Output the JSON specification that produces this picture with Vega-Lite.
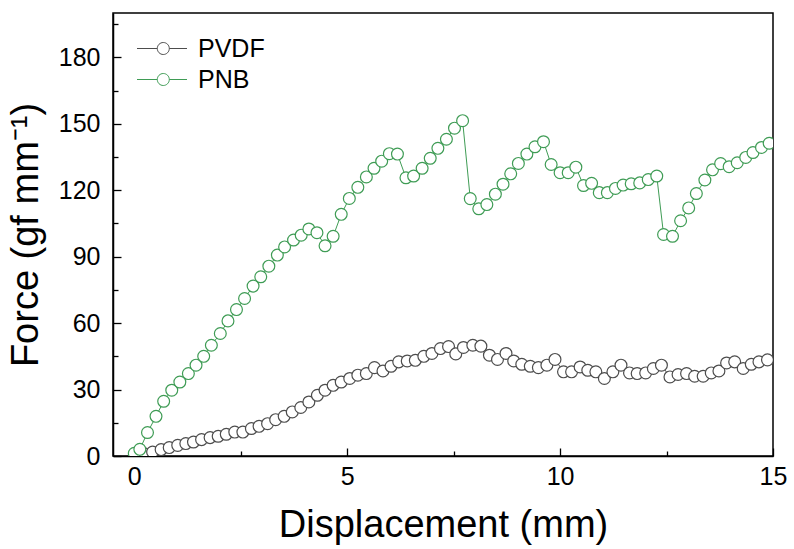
{
  "$schema": "https://vega.github.io/schema/vega-lite/v6.json",
  "width": 660,
  "height": 443,
  "autosize": "none",
  "padding": {"left": 113, "top": 13, "right": 21, "bottom": 93},
  "background": "white",
  "config": {
    "font": "Liberation Sans",
    "view": {"stroke": "black", "strokeWidth": 1.5},
    "axis": {"grid": false, "domainColor": "black", "domainWidth": 1.5, "tickColor": "black", "tickWidth": 1.3, "labelColor": "black", "titleColor": "black", "labelFont": "Liberation Sans", "titleFont": "Liberation Sans", "labelFontSize": 25, "titleFontSize": 38, "titleFontWeight": "normal", "labelFlush": false, "labelOverlap": false}
  },
  "datasets": {
    "pts": [
      {"x": 0.04, "y": 0.3, "s": "PVDF"}, {"x": 0.24, "y": 1.0, "s": "PVDF"}, {"x": 0.43, "y": 1.8, "s": "PVDF"}, {"x": 0.63, "y": 2.9, "s": "PVDF"}, {"x": 0.82, "y": 3.8, "s": "PVDF"}, {"x": 1.02, "y": 4.8, "s": "PVDF"}, {"x": 1.21, "y": 5.6, "s": "PVDF"}, {"x": 1.39, "y": 6.3, "s": "PVDF"}, {"x": 1.58, "y": 7.4, "s": "PVDF"}, {"x": 1.78, "y": 8.3, "s": "PVDF"}, {"x": 1.97, "y": 8.9, "s": "PVDF"}, {"x": 2.16, "y": 9.8, "s": "PVDF"}, {"x": 2.36, "y": 10.8, "s": "PVDF"}, {"x": 2.55, "y": 10.8, "s": "PVDF"}, {"x": 2.75, "y": 12.4, "s": "PVDF"}, {"x": 2.93, "y": 13.4, "s": "PVDF"}, {"x": 3.13, "y": 14.6, "s": "PVDF"}, {"x": 3.32, "y": 16.4, "s": "PVDF"}, {"x": 3.52, "y": 17.9, "s": "PVDF"}, {"x": 3.71, "y": 19.9, "s": "PVDF"}, {"x": 3.91, "y": 21.9, "s": "PVDF"}, {"x": 4.1, "y": 24.4, "s": "PVDF"}, {"x": 4.3, "y": 27.4, "s": "PVDF"}, {"x": 4.48, "y": 29.7, "s": "PVDF"}, {"x": 4.67, "y": 31.9, "s": "PVDF"}, {"x": 4.86, "y": 33.4, "s": "PVDF"}, {"x": 5.06, "y": 35.0, "s": "PVDF"}, {"x": 5.25, "y": 36.5, "s": "PVDF"}, {"x": 5.45, "y": 37.2, "s": "PVDF"}, {"x": 5.64, "y": 39.9, "s": "PVDF"}, {"x": 5.84, "y": 38.4, "s": "PVDF"}, {"x": 6.03, "y": 40.5, "s": "PVDF"}, {"x": 6.21, "y": 42.5, "s": "PVDF"}, {"x": 6.41, "y": 42.9, "s": "PVDF"}, {"x": 6.6, "y": 43.2, "s": "PVDF"}, {"x": 6.8, "y": 45.0, "s": "PVDF"}, {"x": 6.99, "y": 46.3, "s": "PVDF"}, {"x": 7.19, "y": 48.5, "s": "PVDF"}, {"x": 7.38, "y": 49.4, "s": "PVDF"}, {"x": 7.55, "y": 46.1, "s": "PVDF"}, {"x": 7.73, "y": 49.0, "s": "PVDF"}, {"x": 7.95, "y": 50.0, "s": "PVDF"}, {"x": 8.14, "y": 49.6, "s": "PVDF"}, {"x": 8.34, "y": 45.5, "s": "PVDF"}, {"x": 8.53, "y": 43.6, "s": "PVDF"}, {"x": 8.73, "y": 46.3, "s": "PVDF"}, {"x": 8.91, "y": 42.9, "s": "PVDF"}, {"x": 9.1, "y": 41.4, "s": "PVDF"}, {"x": 9.3, "y": 40.5, "s": "PVDF"}, {"x": 9.49, "y": 39.9, "s": "PVDF"}, {"x": 9.69, "y": 41.0, "s": "PVDF"}, {"x": 9.88, "y": 43.6, "s": "PVDF"}, {"x": 10.08, "y": 38.0, "s": "PVDF"}, {"x": 10.27, "y": 38.0, "s": "PVDF"}, {"x": 10.47, "y": 40.2, "s": "PVDF"}, {"x": 10.65, "y": 38.7, "s": "PVDF"}, {"x": 10.84, "y": 38.0, "s": "PVDF"}, {"x": 11.04, "y": 35.0, "s": "PVDF"}, {"x": 11.24, "y": 38.0, "s": "PVDF"}, {"x": 11.43, "y": 41.0, "s": "PVDF"}, {"x": 11.63, "y": 37.5, "s": "PVDF"}, {"x": 11.81, "y": 37.2, "s": "PVDF"}, {"x": 12.01, "y": 37.5, "s": "PVDF"}, {"x": 12.19, "y": 39.5, "s": "PVDF"}, {"x": 12.38, "y": 41.0, "s": "PVDF"}, {"x": 12.58, "y": 35.7, "s": "PVDF"}, {"x": 12.77, "y": 36.8, "s": "PVDF"}, {"x": 12.97, "y": 37.2, "s": "PVDF"}, {"x": 13.16, "y": 36.0, "s": "PVDF"}, {"x": 13.36, "y": 36.0, "s": "PVDF"}, {"x": 13.55, "y": 37.5, "s": "PVDF"}, {"x": 13.73, "y": 38.4, "s": "PVDF"}, {"x": 13.91, "y": 42.0, "s": "PVDF"}, {"x": 14.1, "y": 42.5, "s": "PVDF"}, {"x": 14.3, "y": 39.5, "s": "PVDF"}, {"x": 14.49, "y": 41.4, "s": "PVDF"}, {"x": 14.67, "y": 42.5, "s": "PVDF"}, {"x": 14.87, "y": 43.4, "s": "PVDF"},
      {"x": 0.0, "y": 1.2, "s": "PNB"}, {"x": 0.13, "y": 3.0, "s": "PNB"}, {"x": 0.31, "y": 10.6, "s": "PNB"}, {"x": 0.51, "y": 17.9, "s": "PNB"}, {"x": 0.69, "y": 24.7, "s": "PNB"}, {"x": 0.88, "y": 29.7, "s": "PNB"}, {"x": 1.07, "y": 33.4, "s": "PNB"}, {"x": 1.27, "y": 37.2, "s": "PNB"}, {"x": 1.45, "y": 41.0, "s": "PNB"}, {"x": 1.63, "y": 45.0, "s": "PNB"}, {"x": 1.81, "y": 50.0, "s": "PNB"}, {"x": 2.02, "y": 55.3, "s": "PNB"}, {"x": 2.2, "y": 61.0, "s": "PNB"}, {"x": 2.4, "y": 66.1, "s": "PNB"}, {"x": 2.59, "y": 71.1, "s": "PNB"}, {"x": 2.79, "y": 76.7, "s": "PNB"}, {"x": 2.97, "y": 80.9, "s": "PNB"}, {"x": 3.16, "y": 85.7, "s": "PNB"}, {"x": 3.36, "y": 90.7, "s": "PNB"}, {"x": 3.53, "y": 94.4, "s": "PNB"}, {"x": 3.74, "y": 97.5, "s": "PNB"}, {"x": 3.92, "y": 99.7, "s": "PNB"}, {"x": 4.1, "y": 102.5, "s": "PNB"}, {"x": 4.29, "y": 100.8, "s": "PNB"}, {"x": 4.48, "y": 94.9, "s": "PNB"}, {"x": 4.67, "y": 99.2, "s": "PNB"}, {"x": 4.86, "y": 109.1, "s": "PNB"}, {"x": 5.05, "y": 116.3, "s": "PNB"}, {"x": 5.25, "y": 121.3, "s": "PNB"}, {"x": 5.45, "y": 126.0, "s": "PNB"}, {"x": 5.63, "y": 129.9, "s": "PNB"}, {"x": 5.81, "y": 133.1, "s": "PNB"}, {"x": 5.99, "y": 136.5, "s": "PNB"}, {"x": 6.18, "y": 136.3, "s": "PNB"}, {"x": 6.38, "y": 125.6, "s": "PNB"}, {"x": 6.56, "y": 126.4, "s": "PNB"}, {"x": 6.76, "y": 129.9, "s": "PNB"}, {"x": 6.95, "y": 134.4, "s": "PNB"}, {"x": 7.13, "y": 138.9, "s": "PNB"}, {"x": 7.33, "y": 143.0, "s": "PNB"}, {"x": 7.52, "y": 148.0, "s": "PNB"}, {"x": 7.71, "y": 151.4, "s": "PNB"}, {"x": 7.89, "y": 116.2, "s": "PNB"}, {"x": 8.09, "y": 111.6, "s": "PNB"}, {"x": 8.28, "y": 113.5, "s": "PNB"}, {"x": 8.48, "y": 118.2, "s": "PNB"}, {"x": 8.66, "y": 122.7, "s": "PNB"}, {"x": 8.84, "y": 127.4, "s": "PNB"}, {"x": 9.02, "y": 132.1, "s": "PNB"}, {"x": 9.22, "y": 136.3, "s": "PNB"}, {"x": 9.41, "y": 139.6, "s": "PNB"}, {"x": 9.61, "y": 141.9, "s": "PNB"}, {"x": 9.79, "y": 131.6, "s": "PNB"}, {"x": 10.0, "y": 127.9, "s": "PNB"}, {"x": 10.19, "y": 127.9, "s": "PNB"}, {"x": 10.37, "y": 130.4, "s": "PNB"}, {"x": 10.55, "y": 122.1, "s": "PNB"}, {"x": 10.74, "y": 123.1, "s": "PNB"}, {"x": 10.92, "y": 118.9, "s": "PNB"}, {"x": 11.11, "y": 118.9, "s": "PNB"}, {"x": 11.3, "y": 120.8, "s": "PNB"}, {"x": 11.48, "y": 122.3, "s": "PNB"}, {"x": 11.67, "y": 122.9, "s": "PNB"}, {"x": 11.87, "y": 123.3, "s": "PNB"}, {"x": 12.07, "y": 124.8, "s": "PNB"}, {"x": 12.27, "y": 126.4, "s": "PNB"}, {"x": 12.43, "y": 100.0, "s": "PNB"}, {"x": 12.64, "y": 99.2, "s": "PNB"}, {"x": 12.83, "y": 106.2, "s": "PNB"}, {"x": 13.02, "y": 112.0, "s": "PNB"}, {"x": 13.2, "y": 118.5, "s": "PNB"}, {"x": 13.4, "y": 124.6, "s": "PNB"}, {"x": 13.58, "y": 129.2, "s": "PNB"}, {"x": 13.77, "y": 132.0, "s": "PNB"}, {"x": 13.97, "y": 130.6, "s": "PNB"}, {"x": 14.16, "y": 132.4, "s": "PNB"}, {"x": 14.36, "y": 134.8, "s": "PNB"}, {"x": 14.53, "y": 137.0, "s": "PNB"}, {"x": 14.73, "y": 139.3, "s": "PNB"}, {"x": 14.91, "y": 141.2, "s": "PNB"}
    ]
  },
  "data": {"name": "pts"},
  "encoding": {
    "x": {
      "field": "x", "type": "quantitative",
      "scale": {"domain": [-0.5, 15], "nice": false, "zero": false},
      "axis": {
        "title": "Displacement (mm)",
        "values": [0, 2.5, 5, 7.5, 10, 12.5, 15],
        "labelExpr": "datum.value % 5 === 0 ? datum.label : ''",
        "tickSize": {"condition": {"test": "datum.value % 5 === 0", "value": -8}, "value": -5},
        "labelPadding": 16,
        "titlePadding": 14
      }
    },
    "y": {
      "field": "y", "type": "quantitative",
      "scale": {"domain": [0, 200], "nice": false},
      "axis": {
        "title": "Force (gf mm⁻¹)",
        "values": [0, 15, 30, 45, 60, 75, 90, 105, 120, 135, 150, 165, 180, 195],
        "labelExpr": "datum.value % 30 === 0 ? datum.label : ''",
        "tickSize": {"condition": {"test": "datum.value % 30 === 0", "value": -8}, "value": -5},
        "labelPadding": 21,
        "titlePadding": 13
      }
    },
    "color": {
      "field": "s", "type": "nominal",
      "scale": {"domain": ["PVDF", "PNB"], "range": ["#4d4d4d", "#3f9c55"]},
      "legend": {
        "title": null,
        "orient": "top-left",
        "offset": 23,
        "symbolType": "M-0.958,0L0.733,0M1.733,0L3.208,0M1.733,0C1.733,0.276,1.509,0.5,1.233,0.5C0.957,0.5,0.733,0.276,0.733,0C0.733,-0.276,0.957,-0.5,1.233,-0.5C1.509,-0.5,1.733,-0.276,1.733,0Z",
        "symbolSize": 576,
        "symbolStrokeWidth": 1,
        "symbolFillColor": "white",
        "labelFontSize": 25,
        "labelColor": "black",
        "labelOffset": 37,
        "rowPadding": 5
      }
    }
  },
  "layer": [
    {
      "mark": {"type": "line", "strokeWidth": 1, "clip": true}
    },
    {
      "mark": {"type": "point", "filled": false, "fill": "white", "fillOpacity": 1, "size": 140, "strokeWidth": 1.2, "opacity": 1, "clip": true}
    }
  ]
}
